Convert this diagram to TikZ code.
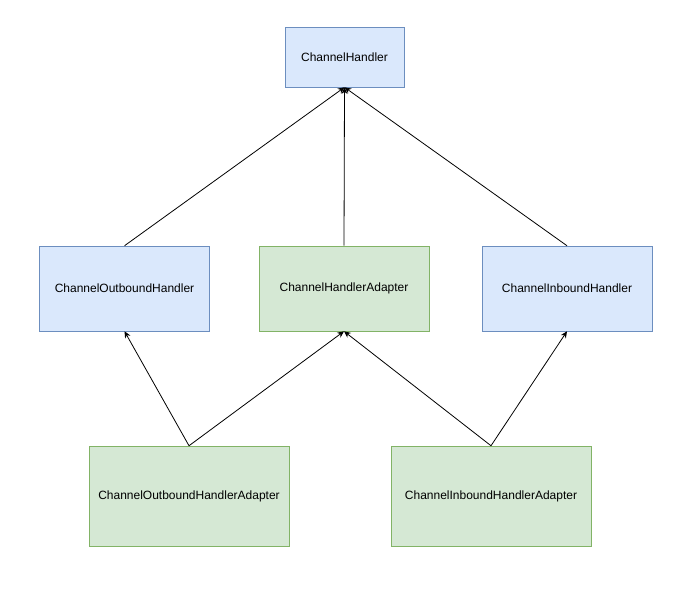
\documentclass[tikz,border=0pt]{standalone}
\usepackage{fontspec}
\setmainfont{Liberation Sans}
\usetikzlibrary{arrows.meta}
\definecolor{ifacefill}{HTML}{DAE8FC}
\definecolor{ifacedraw}{HTML}{6C8EBF}
\definecolor{implfill}{HTML}{D5E8D4}
\definecolor{impldraw}{HTML}{82B366}

\begin{document}
\begin{tikzpicture}[x=0.75pt,y=-0.75pt,
		iface/.style={draw=ifacedraw,fill=ifacefill,inner sep=0pt,font=\fontsize{9}{11}\selectfont},
		impl/.style={draw=impldraw,fill=implfill,inner sep=0pt,font=\fontsize{9}{11}\selectfont},
		ext/.style={-{Stealth[length=5pt,width=4.5pt]},line width=0.6pt}]
	\useasboundingbox (0,0) rectangle (684,594);
	\node[iface,minimum width=89.25pt,minimum height=45pt] (ch) at (344.5,57) {ChannelHandler};
	\node[iface,minimum width=127.5pt,minimum height=63.75pt] (out) at (124.5,288.5) {ChannelOutboundHandler};
	\node[impl,minimum width=127.5pt,minimum height=63.75pt] (cha) at (344,288.5) {ChannelHandlerAdapter};
	\node[iface,minimum width=127.5pt,minimum height=63.75pt] (in) at (567,288.5) {ChannelInboundHandler};
	\node[impl,minimum width=150pt,minimum height=75pt] (outa) at (189,496) {ChannelOutboundHandlerAdapter};
	\node[impl,minimum width=150pt,minimum height=75pt] (ina) at (491,496) {ChannelInboundHandlerAdapter};
	% to the top
	\draw[ext] (out.north) -- (ch.south);
	\draw[ext] (cha.north) -- (ch.south);
	\draw[ext] (in.north) -- (ch.south);
	% adapters
	\draw[ext] (outa.north) -- (out.south);
	\draw[ext] (outa.north) -- (cha.south);
	\draw[ext] (ina.north) -- (cha.south);
	\draw[ext] (ina.north) -- (in.south);
\end{tikzpicture}
\end{document}
